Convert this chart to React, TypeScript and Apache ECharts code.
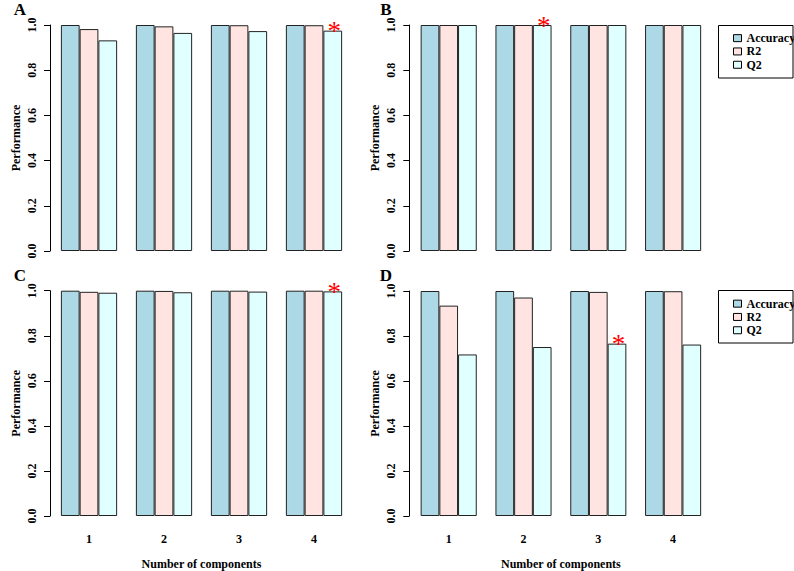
import React, { useEffect, useRef } from "react";
import * as echarts from "echarts";

const categories = ["1", "2", "3", "4"];
const seriesNames = ["Accuracy", "R2", "Q2"];
const seriesColors = ["#ADD8E6", "#FFE4E1", "#E0FFFF"];
const panelLetters = ["A", "B", "C", "D"];

const accuracyA = [1, 1, 1, 1];
const r2A = [0.982, 0.994, 0.999, 0.999];
const q2A = [0.932, 0.965, 0.973, 0.975];

const accuracyB = [1, 1, 1, 1];
const r2B = [1, 1, 1, 1];
const q2B = [1, 1, 1, 1];

const accuracyC = [1, 1, 1, 1];
const r2C = [0.995, 0.999, 1, 1];
const q2C = [0.991, 0.993, 0.996, 0.997];

const accuracyD = [1, 1, 1, 1];
const r2D = [0.935, 0.971, 0.996, 0.999];
const q2D = [0.718, 0.751, 0.766, 0.762];

// index of the Q2 bar marked with a red asterisk in each panel
const starIndex = [3, 1, 3, 2];

const panelData = [
  [accuracyA, r2A, q2A],
  [accuracyB, r2B, q2B],
  [accuracyC, r2C, q2C],
  [accuracyD, r2D, q2D],
];

const FONT = "Liberation Serif";

// layout of each panel (pixels)
const grids = [
  { left: 51.5, top: 25, width: 300, height: 226, axisOffset: 1.5 },
  { left: 411.3, top: 25, width: 299.2, height: 226, axisOffset: 2 },
  { left: 51.5, top: 290.7, width: 300, height: 225.3, axisOffset: 1.5 },
  { left: 411.3, top: 291, width: 299.2, height: 225, axisOffset: 2 },
];

export default function App() {
  const ref = useRef<HTMLDivElement>(null);

  useEffect(() => {
    if (!ref.current) return;
    const chart = echarts.init(ref.current, null, { renderer: "svg" });

    const textBase = {
      fontFamily: FONT,
      fontWeight: "bold" as const,
      fontSize: 12,
      color: "#000",
    };

    const xAxis = grids.map((g, i) => {
      const bottom = i >= 2;
      return {
        type: "category",
        gridIndex: i,
        data: categories,
        axisLine: { show: false },
        axisTick: { show: false },
        axisLabel: { show: bottom, margin: 17, ...textBase },
        name: bottom ? "Number of components" : "",
        nameLocation: "middle",
        nameGap: 42,
        nameTextStyle: { ...textBase },
      };
    });

    const yAxis = grids.map((g, i) => ({
      type: "value",
      gridIndex: i,
      min: 0,
      max: 1,
      interval: 0.2,
      offset: g.axisOffset,
      axisLine: { show: true, lineStyle: { color: "#000", width: 1 } },
      axisTick: { show: true, length: 6, lineStyle: { color: "#000", width: 1 } },
      splitLine: { show: false },
      axisLabel: {
        rotate: 90,
        margin: 12,
        formatter: (v: number) => v.toFixed(1),
        ...textBase,
      },
      name: "Performance",
      nameLocation: "middle",
      nameGap: 28,
      nameTextStyle: { ...textBase },
    }));

    const series: any[] = [];
    panelData.forEach((sets, p) => {
      sets.forEach((vals, s) => {
        series.push({
          type: "bar",
          name: seriesNames[s],
          xAxisIndex: p,
          yAxisIndex: p,
          barWidth: "25%",
          barGap: "0%",
          itemStyle: {
            color: seriesColors[s],
            borderColor: "#222",
            borderWidth: 1,
          },
          data: vals.map((v, k) =>
            s === 2 && k === starIndex[p]
              ? {
                  value: v,
                  label: {
                    show: true,
                    formatter: "*",
                    position: "top",
                    distance: -14,
                    offset: [1.5, 0],
                    color: "#FF0000",
                    fontSize: 27,
                    fontWeight: "normal",
                    fontFamily: FONT,
                  },
                }
              : v
          ),
        });
      });
    });

    const legendCommon = {
      data: seriesNames,
      orient: "vertical",
      left: 733,
      itemWidth: 8,
      itemHeight: 7,
      itemGap: 1,
      padding: 0,
      selectedMode: false,
      icon: "rect",
      itemStyle: { borderColor: "#000", borderWidth: 1 },
      textStyle: { ...textBase, lineHeight: 12.3 },
    };

    const letterPos = [
      { x: 20, y: 9.5 },
      { x: 386, y: 9.5 },
      { x: 20, y: 275 },
      { x: 386, y: 275 },
    ];

    chart.setOption({
      animation: false,
      backgroundColor: "#fff",
      grid: grids.map((g) => ({
        left: g.left,
        top: g.top,
        width: g.width,
        height: g.height,
        containLabel: false,
      })),
      xAxis,
      yAxis,
      legend: [
        { ...legendCommon, top: 32 },
        { ...legendCommon, top: 297.5 },
      ],
      series,
      graphic: [
        {
          type: "rect",
          shape: { x: 718.5, y: 25.5, width: 74.5, height: 52.5 },
          style: { fill: "none", stroke: "#000", lineWidth: 1 },
          z: 10,
        },
        {
          type: "rect",
          shape: { x: 718.5, y: 290.5, width: 74.5, height: 52.5 },
          style: { fill: "none", stroke: "#000", lineWidth: 1 },
          z: 10,
        },
        ...panelLetters.map((t, i) => ({
          type: "text",
          x: letterPos[i].x,
          y: letterPos[i].y,
          style: {
            text: t,
            fontFamily: FONT,
            fontWeight: "bold",
            fontSize: 17,
            fill: "#000",
            textAlign: "center",
            textVerticalAlign: "middle",
          },
        })),
      ],
    });

    return () => chart.dispose();
  }, []);

  return (
    <div
      ref={ref}
      style={{ position: "absolute", left: 0, top: 0, width: 794, height: 571 }}
    />
  );
}
